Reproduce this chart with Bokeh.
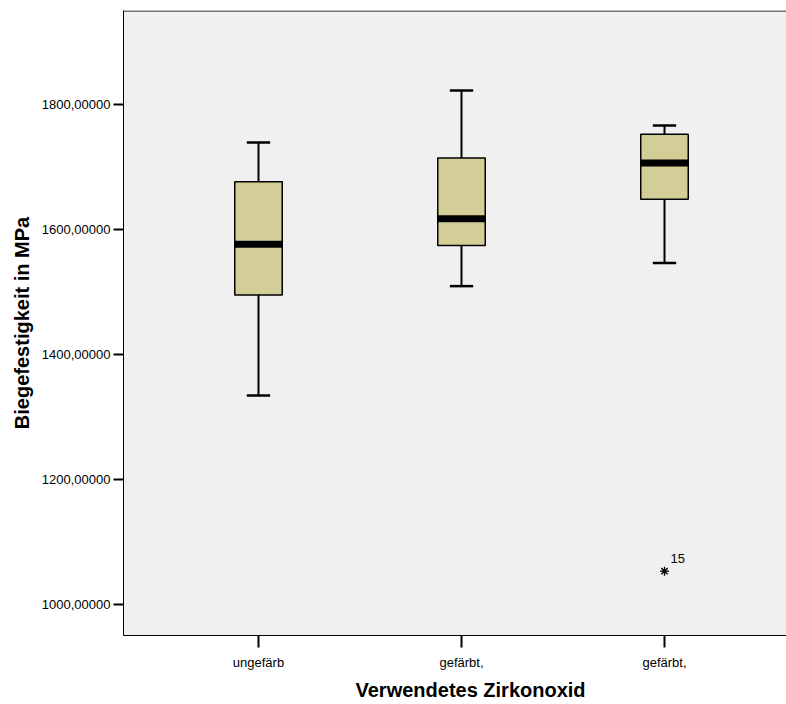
from bokeh.plotting import figure
from bokeh.models import FixedTicker, Range1d, Span, Title
from bokeh.core.properties import value
from bokeh.embed import file_html
from bokeh.resources import INLINE

# ---- data ----
positions = [1, 2, 3]
category_labels = ["ungefärb", "gefärbt,", "gefärbt,"]
lower_whisker = [1334, 1509, 1546]
q1 = [1495, 1574, 1648]
median = [1576, 1617, 1706]
q3 = [1676, 1714, 1752]
upper_whisker = [1739, 1822, 1766]
outlier_x = [3]
outlier_y = [1053]
outlier_labels = ["15"]
y_ticks = [1000, 1200, 1400, 1600, 1800]
y_tick_labels = ["1000,00000", "1200,00000", "1400,00000", "1600,00000", "1800,00000"]
x_title = "Verwendetes Zirkonoxid"
y_title = "Biegefestigkeit in MPa"
y_min, y_max = 950, 1950

FONT = "Liberation Sans"
BOX_W = 0.234
CAP_W = 0.115

p = figure(width=786, height=704, output_backend="svg", toolbar_location=None,
           x_range=Range1d(0.335, 3.601), y_range=Range1d(y_min, y_max),
           min_border_left=123, min_border_right=0, min_border_top=10, min_border_bottom=10)

p.background_fill_color = "#f0f0f0"
p.border_fill_color = "white"
p.outline_line_color = None
p.xgrid.visible = False
p.ygrid.visible = False

# whiskers
p.segment(x0=positions, y0=q3, x1=positions, y1=upper_whisker, line_color="black", line_width=2)
p.segment(x0=positions, y0=q1, x1=positions, y1=lower_whisker, line_color="black", line_width=2)
p.segment(x0=[x - CAP_W / 2 for x in positions], y0=upper_whisker,
          x1=[x + CAP_W / 2 for x in positions], y1=upper_whisker, line_color="black", line_width=2.5)
p.segment(x0=[x - CAP_W / 2 for x in positions], y0=lower_whisker,
          x1=[x + CAP_W / 2 for x in positions], y1=lower_whisker, line_color="black", line_width=2.5)

# boxes
p.vbar(x=positions, width=BOX_W, bottom=q1, top=q3, fill_color="#d3ce97",
       line_color="black", line_width=1.5)
# medians
p.rect(x=positions, y=median, width=BOX_W, height=7, height_units="screen",
       fill_color="black", line_color=None)

# outlier
p.scatter(x=outlier_x, y=outlier_y, marker="asterisk", size=9, line_width=1.3, line_color="black")
p.text(x=outlier_x, y=outlier_y, text=outlier_labels, x_offset=6, y_offset=-8,
       text_font=value(FONT), text_font_size="13px", text_color="black",
       text_baseline="bottom", text_align="left")

# axes
xa = p.xaxis[0]
xa.ticker = FixedTicker(ticks=positions)
xa.major_label_overrides = {x: lab for x, lab in zip(positions, category_labels)}
ya = p.yaxis[0]
ya.ticker = FixedTicker(ticks=y_ticks)
ya.major_label_overrides = {t: lab for t, lab in zip(y_ticks, y_tick_labels)}
ya.axis_label = y_title

for ax in (xa, ya):
    ax.axis_line_color = "black"
    ax.axis_line_width = 1
    ax.major_tick_line_color = "black"
    ax.major_tick_line_width = 2
    ax.major_tick_in = 0
    ax.minor_tick_line_color = None
    ax.major_label_text_font = FONT
    ax.major_label_text_font_size = "13px"
    ax.major_label_text_color = "black"
    ax.axis_label_text_font = FONT
    ax.axis_label_text_font_size = "20px"
    ax.axis_label_text_font_style = "bold"
    ax.axis_label_text_color = "black"

xa.major_tick_out = 12
xa.major_label_standoff = 7
ya.major_tick_out = 10
ya.major_label_standoff = 3
ya.axis_label_standoff = 6

# top border of the frame
p.add_layout(Span(location=y_max - 0.8, dimension="width", line_color="black", line_width=1))

# x-axis title below the axis, positioned as in the original
p.add_layout(Title(text=x_title, align="left", offset=232, standoff=8,
                   text_font=FONT, text_font_size="20px", text_font_style="bold",
                   text_color="black"), "below")

open("out.html", "w").write(file_html(p, INLINE))
